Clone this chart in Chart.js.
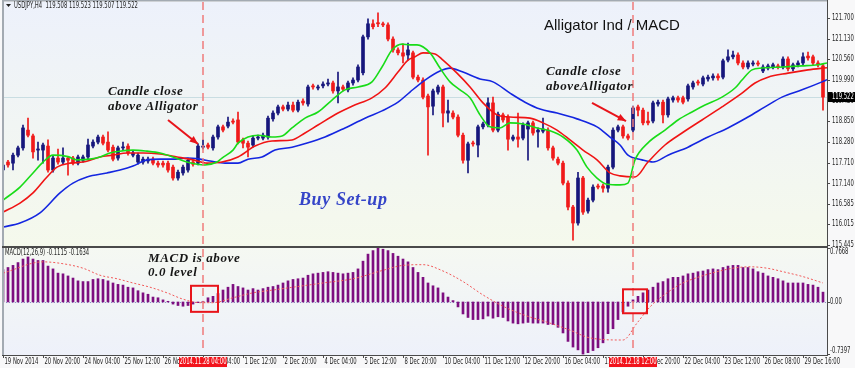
<!DOCTYPE html>
<html>
<head>
<meta charset="utf-8">
<script src="https://cdn.jsdelivr.net/npm/chart.js@4.4.1/dist/chart.umd.min.js"></script>
<style>
  html, body { margin: 0; padding: 0; background: #f8f8f8; }
  #wrap { position: relative; width: 855px; height: 368px; overflow: hidden; }
  #chart { position: absolute; left: 0; top: 0; }
  .note { position: absolute; font-family: "Liberation Serif", serif; font-weight: bold; font-style: italic; color: #161616; white-space: nowrap; }
  .title { position: absolute; font-family: "Liberation Sans", sans-serif; color: #111; white-space: nowrap; }
</style>
</head>
<body>
<div id="wrap">
  <canvas id="chart" width="855" height="368"></canvas>
  <div class="title" style="left:544px;top:16px;font-size:15px;line-height:18px;">Alligator Ind / MACD</div>
  <div class="note" style="left:108px;top:83px;font-size:13px;line-height:15px;letter-spacing:0.6px;">Candle close<br>above Alligator</div>
  <div class="note" style="left:546px;top:63px;font-size:13px;line-height:15px;letter-spacing:0.6px;">Candle close<br>aboveAlligator</div>
  <div class="note" style="left:148px;top:251px;font-size:13px;line-height:14px;letter-spacing:0.6px;">MACD is above<br>0.0 level</div>
  <div class="note" style="left:299px;top:189px;font-size:18px;line-height:20px;letter-spacing:0.6px;color:#3545c8;">Buy Set-up</div>
</div>
<script>
// USDJPY H4 candles, one per 4h bar
const openP = [117.51,117.73,117.70,117.92,118.12,118.61,118.45,118.06,118.06,118.17,
  117.51,117.84,117.73,117.84,117.84,117.70,117.78,117.87,118.17,118.28,
  118.42,118.28,118.14,117.84,118.12,118.17,117.92,117.73,117.73,117.76,
  117.81,117.70,117.70,117.70,117.59,117.29,117.43,117.51,117.73,117.70,
  118.14,118.20,118.12,118.42,118.70,118.72,118.86,118.89,118.34,118.25,
  118.20,118.39,118.39,118.42,118.92,119.08,119.25,119.19,119.30,119.16,
  119.41,119.33,119.83,119.77,119.83,119.88,119.91,119.69,119.80,119.72,
  119.91,119.99,120.19,121.18,121.54,121.57,121.54,121.51,121.12,120.82,
  120.74,120.68,120.74,120.07,119.99,119.55,119.27,119.66,119.80,119.08,
  119.08,118.97,118.47,117.78,118.25,118.20,118.70,118.75,119.36,118.61,
  119.03,118.97,118.36,118.42,118.39,118.64,118.81,118.56,118.58,118.61,
  118.12,117.81,117.70,117.15,116.49,116.05,117.29,116.38,116.68,117.07,
  117.07,117.01,117.59,118.61,118.70,118.45,118.61,119.25,119.16,118.86,
  118.86,119.33,119.38,119.03,119.44,119.50,119.50,119.47,119.80,119.94,
  119.88,120.02,120.05,120.10,120.07,120.54,120.63,120.68,120.46,120.35,
  120.43,120.46,120.24,120.32,120.35,120.38,120.35,120.57,120.30,120.41,
  120.46,120.65,120.63,120.46,120.38];
const highP = [117.73,117.78,117.98,118.17,118.75,118.94,118.50,118.28,118.25,118.34,
  117.89,118.09,118.12,117.89,117.89,117.92,117.92,118.36,118.34,118.47,
  118.47,118.56,118.20,118.17,118.28,118.23,118.03,117.98,117.87,117.87,
  117.87,117.76,117.76,117.76,117.65,117.51,117.65,117.84,117.78,118.23,
  118.34,118.25,118.47,118.75,118.75,118.97,118.92,119.11,118.39,118.31,
  118.45,118.47,118.53,119.00,119.14,119.30,119.30,119.38,119.38,119.44,
  119.47,119.85,119.88,119.85,119.94,120.02,119.96,120.21,119.85,119.96,
  120.05,120.41,121.23,121.68,121.65,121.84,121.59,121.57,121.18,120.88,
  120.99,121.01,120.79,120.13,120.05,119.60,119.74,119.85,119.85,119.44,
  119.14,119.03,118.53,118.28,118.31,118.75,118.83,119.50,119.52,119.11,
  119.08,119.03,118.47,119.08,118.81,118.86,118.86,118.67,118.94,118.67,
  118.17,117.87,117.76,117.21,116.54,117.45,117.34,116.74,117.10,117.12,
  117.12,117.65,118.67,118.75,118.75,118.50,119.27,119.30,119.22,119.11,
  119.41,119.44,119.44,119.52,119.55,119.55,119.55,119.88,119.96,119.99,
  120.10,120.13,120.16,120.16,120.57,120.82,120.79,120.74,120.52,120.52,
  120.52,120.52,120.41,120.43,120.46,120.43,120.63,120.63,120.46,120.52,
  120.74,120.76,120.68,120.52,120.43];
const lowP = [117.45,117.59,117.51,117.87,118.06,118.42,117.84,117.78,117.70,117.45,
  117.45,117.67,117.67,117.37,117.65,117.65,117.73,117.81,118.12,118.23,
  118.20,118.01,117.76,117.78,118.06,117.92,117.87,117.67,117.67,117.70,
  117.65,117.59,117.59,117.45,117.23,117.23,117.37,117.45,117.62,117.65,
  118.09,118.09,118.06,118.36,118.56,118.67,118.78,118.23,118.12,117.87,
  118.14,118.34,118.34,118.36,118.86,119.03,119.14,119.14,119.11,119.11,
  119.30,119.27,119.74,119.72,119.77,119.83,119.63,119.36,119.69,119.66,
  119.85,119.94,120.13,121.12,121.40,121.46,121.46,121.07,120.76,120.68,
  120.46,120.54,120.02,119.94,119.47,117.92,119.03,119.60,118.70,118.83,
  118.92,118.42,117.70,117.43,118.17,117.87,118.64,118.70,118.56,118.56,
  118.83,118.06,118.31,118.14,118.34,117.78,118.47,118.14,118.53,118.06,
  117.78,117.65,117.10,116.41,115.58,115.99,116.29,116.32,116.63,116.99,
  116.90,116.90,117.54,118.56,118.39,118.34,118.56,119.00,118.75,118.75,
  118.81,119.27,118.81,118.97,119.38,119.38,119.33,119.41,119.74,119.85,
  119.83,119.96,119.99,119.99,120.02,120.49,120.57,120.41,120.30,120.30,
  120.38,120.38,120.19,120.27,120.30,120.30,120.30,120.24,120.24,120.35,
  120.41,120.54,120.41,120.35,119.16];
const closeP = [117.65,117.65,117.92,118.12,118.67,118.47,118.01,118.09,118.20,117.51,
  117.84,117.73,117.84,117.78,117.70,117.87,117.87,118.20,118.28,118.42,
  118.25,118.06,117.81,118.12,118.14,117.98,117.98,117.92,117.81,117.81,
  117.70,117.65,117.65,117.51,117.29,117.45,117.59,117.78,117.67,118.17,
  118.17,118.14,118.42,118.70,118.61,118.83,118.83,118.28,118.25,118.14,
  118.39,118.42,118.47,118.94,119.08,119.25,119.19,119.30,119.16,119.38,
  119.36,119.80,119.80,119.80,119.88,119.91,119.69,119.80,119.74,119.91,
  119.99,120.35,121.18,121.54,121.46,121.54,121.51,121.12,120.82,120.74,
  120.65,120.82,120.07,119.99,119.52,119.25,119.69,119.80,119.08,119.14,
  118.97,118.47,117.78,118.23,118.23,118.70,118.78,119.36,118.61,119.05,
  118.89,118.36,118.42,118.36,118.75,118.81,118.53,118.61,118.64,118.12,
  117.84,117.70,117.15,116.49,116.05,117.29,116.35,116.68,117.04,117.04,
  117.01,117.59,118.61,118.70,118.45,118.39,119.22,119.16,118.81,118.81,
  119.36,119.38,119.03,119.47,119.50,119.44,119.38,119.83,119.91,119.91,
  120.05,120.07,120.10,120.05,120.52,120.63,120.68,120.46,120.35,120.46,
  120.46,120.43,120.35,120.38,120.41,120.35,120.57,120.30,120.41,120.46,
  120.63,120.60,120.46,120.41,119.52];

// Alligator lines, sampled at bar positions
const jawBars = [0,3.4,7.4,11.4,14,16.8,20.8,23.4,26,28.8,31.4,34,36.8,39.4,41.4,44.4,47,49,51.8,54.4,57.8,61,64.4,68.4,72.4,75.8,79,81.4,84.4,87.4,89.4,92,95.4,98,101.4,104.4,107.4,110.8,114.8,118.8,121.4,123.4,125,127.8,130,133,137,141,145,149,152.4,155.8,159.8,163.8,164.8];
const jawVals = [115.94,116.05,116.33,116.88,117.15,117.32,117.43,117.51,117.62,117.79,117.81,117.81,117.84,117.81,117.76,117.70,117.70,117.81,117.87,118.06,118.14,118.26,118.42,118.67,118.94,119.14,119.38,119.66,119.99,120.24,120.32,120.21,120.02,119.94,119.63,119.38,119.19,119.08,118.92,118.70,118.42,118.20,117.92,117.79,117.73,117.92,118.14,118.42,118.67,118.97,119.25,119.52,119.72,119.94,120.00];
const teethBars = [0,3.4,6,8.8,10.8,13.4,16,19.4,22,24.8,28,31.4,34.8,38,40.8,43.8,47,50.4,53.8,57.8,60.4,63,67,69.8,73.8,76.4,79,81,82.4,84,86.4,88,90.8,93.4,96,98.8,101.4,105.4,108,110.8,113.4,116,118.8,121.4,123.4,126.4,129,132.4,135.8,139.8,143.8,147.8,150.4,153,157,161,164.8];
const teethVals = [116.35,116.60,116.88,117.32,117.59,117.70,117.73,117.87,117.92,117.98,117.98,117.95,117.87,117.79,117.70,117.73,117.87,118.17,118.31,118.34,118.53,118.75,119.08,119.27,119.50,119.77,120.21,120.54,120.63,120.74,120.71,120.54,120.18,119.80,119.36,119.03,118.97,118.94,118.81,118.61,118.34,118.06,117.79,117.43,117.35,117.32,117.73,118.20,118.53,118.89,119.25,119.63,119.91,120.07,120.18,120.27,120.33];
const lipsBars = [0,3.4,6,8,10,13,14.8,17.4,19.4,21.4,23.4,26,28.8,31.4,34,36.8,38.8,40.4,42.8,43.8,46,47,49,51,53.8,55.8,57.8,60.4,63,65.8,68.4,71,73.8,75.8,77.8,79.8,81.4,82.8,85.4,87.4,89.4,91.4,93.4,95.4,97.4,99.4,101.4,104,106.8,109.4,112,114.8,116.8,118.8,120.8,123.4,125,126.4,129,132.4,135,137.8,140.4,143.8,146.4,147.8,149.8,151.8,155.8,159.8,163,164.8];
const lipsVals = [116.68,117.04,117.43,117.73,117.92,117.88,117.79,117.81,117.87,117.98,118.03,118.06,118.03,117.98,117.87,117.73,117.67,117.65,117.73,117.84,118.06,118.25,118.42,118.47,118.42,118.45,118.67,118.94,119.11,119.44,119.72,119.80,119.94,120.35,120.82,120.98,120.96,120.96,120.74,120.32,119.94,119.72,119.50,119.03,118.70,118.67,118.81,118.78,118.67,118.59,118.42,118.06,117.59,117.29,117.12,117.10,117.15,117.79,118.26,118.61,118.89,119.11,119.30,119.52,119.77,119.99,120.27,120.32,120.35,120.38,120.41,120.46];

// MACD(12,26,9): histogram per bar and the signal line
const macdHist = [0.46,0.49,0.52,0.56,0.61,0.64,0.61,0.59,0.59,0.51,
  0.47,0.41,0.40,0.37,0.34,0.30,0.29,0.29,0.32,0.33,
  0.32,0.30,0.27,0.25,0.24,0.21,0.20,0.16,0.13,0.11,
  0.07,0.06,0.03,0.01,-0.03,-0.05,-0.06,-0.05,-0.03,-0.01,
  0.01,0.06,0.08,0.12,0.17,0.21,0.25,0.22,0.20,0.17,
  0.19,0.17,0.19,0.21,0.22,0.24,0.27,0.30,0.32,0.33,
  0.34,0.38,0.40,0.41,0.42,0.43,0.42,0.41,0.40,0.41,
  0.42,0.47,0.58,0.68,0.73,0.7668,0.75,0.73,0.69,0.65,
  0.61,0.57,0.49,0.42,0.35,0.27,0.23,0.20,0.13,0.07,
  0.02,-0.07,-0.17,-0.22,-0.25,-0.25,-0.24,-0.20,-0.23,-0.21,
  -0.22,-0.27,-0.30,-0.31,-0.30,-0.29,-0.30,-0.30,-0.30,-0.32,
  -0.32,-0.36,-0.44,-0.56,-0.64,-0.68,-0.7397,-0.72,-0.69,-0.65,
  -0.58,-0.45,-0.38,-0.25,-0.14,-0.06,0.03,0.08,0.13,0.17,
  0.21,0.27,0.29,0.33,0.35,0.35,0.37,0.40,0.41,0.43,
  0.44,0.46,0.47,0.46,0.49,0.51,0.52,0.52,0.49,0.49,
  0.47,0.43,0.41,0.37,0.35,0.33,0.30,0.27,0.27,0.27,
  0.27,0.25,0.24,0.21,0.14];
const signalBars = [0,8,11.4,16,19.4,22.8,26,29.4,32.8,36,39.4,42,46,50,54,58,64,70,76,80,84,88,92,96,100,104,109.4,113.4,117.4,124,126.8,129.4,132.8,136,139.4,142.8,146,149.4,152.8,156,160,164];
const signalVals = [0.41,0.57,0.55,0.48,0.38,0.33,0.27,0.21,0.13,0.04,-0.01,-0.01,0.06,0.13,0.17,0.21,0.27,0.33,0.45,0.52,0.53,0.44,0.29,0.10,-0.06,-0.18,-0.30,-0.40,-0.51,-0.54,-0.30,-0.07,0.13,0.27,0.36,0.43,0.48,0.50,0.48,0.43,0.36,0.27];

// axis labels
const priceTicks = [121.700,121.130,120.560,119.990,119.420,118.850,118.280,117.710,117.140,116.585,116.015,115.445];
const macdTicks = [0.7668, 0.00, -0.7397];
const macdTickText = ['0.7668', '0.00', '-0.7397'];
const timeTickBars = [0,8,16,24,32,40,48,56,64,72,80,88,96,104,112,120,128,136,144,152,160];
const timeTickLabels = ['19 Nov 2014','20 Nov 20:00','24 Nov 04:00','25 Nov 12:00','26 Nov 20:00','28 Nov 04:00',
  '1 Dec 12:00','2 Dec 20:00','4 Dec 04:00','5 Dec 12:00','8 Dec 20:00','10 Dec 04:00','11 Dec 12:00',
  '12 Dec 20:00','16 Dec 04:00','17 Dec 12:00','18 Dec 20:00','22 Dec 04:00','23 Dec 12:00','26 Dec 08:00','29 Dec 16:00'];
const markBars = [40, 126];
const markLabels = ['2014.11.28 04:00', '2014.12.18 12:00'];
const lastPrice = 119.522;
const headerText = 'USDJPY,H4  119.508 119.523 119.507 119.522';
const macdHeader = 'MACD(12,26,9) -0.1115 -0.1634';

// annotation shapes (bar index / value space)
const boxBars = [[37.6, 43.0], [124.0, 128.8]];
const boxVals = [[0.23, -0.14], [0.18, -0.16]];
const arrowFrom = [[33, 118.89], [117.8, 119.36]];
const arrowTo = [[39, 118.23], [124.6, 118.86]];

const BULL = '#16167c';
const BEAR = '#f01a1a';
const candleColors = closeP.map((c, i) => c >= openP[i] ? BULL : BEAR);
const idx = closeP.map((_, i) => i);

const SMALL = '8px "DejaVu Sans"';
const SQ = 0.66; // horizontal squeeze of the terminal font

function squeezed(ctx, txt, x, y, align) {
  ctx.save();
  ctx.translate(x, y);
  ctx.scale(SQ, 1);
  ctx.textAlign = align || 'left';
  ctx.fillText(txt, 0, 0);
  ctx.restore();
}

function arrow(ctx, x1, y1, x2, y2) {
  ctx.beginPath();
  ctx.moveTo(x1, y1);
  ctx.lineTo(x2, y2);
  ctx.stroke();
  const a = Math.atan2(y2 - y1, x2 - x1);
  ctx.beginPath();
  ctx.moveTo(x2, y2);
  ctx.lineTo(x2 - 9 * Math.cos(a - 0.4), y2 - 9 * Math.sin(a - 0.4));
  ctx.lineTo(x2 - 9 * Math.cos(a + 0.4), y2 - 9 * Math.sin(a + 0.4));
  ctx.closePath();
  ctx.fill();
}

const terminalLook = {
  id: 'terminalLook',
  beforeDraw(chart) {
    const { ctx, chartArea: a, scales: { y, y2 } } = chart;
    ctx.save();
    ctx.fillStyle = '#f8f8f9';
    ctx.fillRect(0, 0, chart.width, chart.height);
    let g = ctx.createLinearGradient(0, y.top, 0, y.bottom);
    g.addColorStop(0, '#edf1fb');
    g.addColorStop(1, '#f5f9ec');
    ctx.fillStyle = g;
    ctx.fillRect(a.left, y.top, a.right - a.left, y.bottom - y.top);
    g = ctx.createLinearGradient(0, y2.top, 0, y2.bottom);
    g.addColorStop(0, '#f5f8f2');
    g.addColorStop(1, '#eef1fa');
    ctx.fillStyle = g;
    ctx.fillRect(a.left, y2.top, a.right - a.left, y2.bottom - y2.top);
    ctx.restore();
  },
  beforeDatasetsDraw(chart) {
    const { ctx, chartArea: a, scales: { y, y2 } } = chart;
    ctx.save();
    // bid line
    const py = Math.round(y.getPixelForValue(lastPrice)) + 0.5;
    ctx.strokeStyle = '#c9dde2';
    ctx.lineWidth = 1;
    ctx.beginPath(); ctx.moveTo(a.left, py); ctx.lineTo(a.right, py); ctx.stroke();
    // zero level of MACD
    const zy = Math.round(y2.getPixelForValue(0)) + 0.5;
    ctx.strokeStyle = '#8a94c8';
    ctx.setLineDash([1, 2]);
    ctx.beginPath(); ctx.moveTo(a.left, zy); ctx.lineTo(a.right, zy); ctx.stroke();
    ctx.restore();
  },
  afterDatasetsDraw(chart) {
    const { ctx, chartArea: a, scales: { x, y, y2 } } = chart;
    ctx.save();
    // red dashed event lines
    ctx.strokeStyle = '#ef7b7b';
    ctx.lineWidth = 1.5;
    ctx.setLineDash([8, 5]);
    markBars.forEach(b => {
      const px = x.getPixelForValue(b);
      ctx.beginPath(); ctx.moveTo(px, a.top); ctx.lineTo(px, a.bottom - 3); ctx.stroke();
    });
    ctx.setLineDash([]);
    // red boxes on the MACD cross
    ctx.strokeStyle = '#e8141a';
    ctx.lineWidth = 2;
    boxBars.forEach((bb, i) => {
      const x1 = x.getPixelForValue(bb[0]), x2 = x.getPixelForValue(bb[1]);
      const y1 = y2.getPixelForValue(boxVals[i][0]), yb = y2.getPixelForValue(boxVals[i][1]);
      ctx.strokeRect(x1, y1, x2 - x1, yb - y1);
    });
    // arrows
    ctx.strokeStyle = '#e8141a';
    ctx.fillStyle = '#e8141a';
    ctx.lineWidth = 2;
    arrowFrom.forEach((f, i) => {
      arrow(ctx, x.getPixelForValue(f[0]), y.getPixelForValue(f[1]),
        x.getPixelForValue(arrowTo[i][0]), y.getPixelForValue(arrowTo[i][1]));
    });
    ctx.restore();
  },
  afterDraw(chart) {
    const { ctx, chartArea: a, scales: { x, y, y2 } } = chart;
    ctx.save();
    // frame
    ctx.fillStyle = '#a3aab2';
    ctx.fillRect(a.left - 1, 0, 2, a.bottom);
    ctx.fillRect(a.left - 1, 0, a.right - a.left + 1, 1.5);
    ctx.fillStyle = '#4a4a4a';
    ctx.fillRect(a.right, 0, 1, a.bottom + 1);
    ctx.fillRect(a.left - 1, y.bottom - 1, a.right - a.left + 1, 2);
    ctx.fillRect(a.left - 1, a.bottom, a.right - a.left + 2, 1);

    ctx.font = SMALL;
    ctx.fillStyle = '#1e1e1e';
    ctx.textBaseline = 'middle';
    ctx.strokeStyle = '#4a4a4a';
    ctx.lineWidth = 1;
    // price axis
    priceTicks.forEach(v => {
      const py = y.getPixelForValue(v);
      ctx.beginPath(); ctx.moveTo(a.right, Math.round(py) + 0.5); ctx.lineTo(a.right + 3, Math.round(py) + 0.5); ctx.stroke();
      squeezed(ctx, v.toFixed(3), a.right + 5, py);
    });
    // last price tag
    const lp = y.getPixelForValue(lastPrice);
    ctx.fillStyle = '#000';
    ctx.fillRect(a.right + 1, lp - 5, chart.width - a.right - 1, 10);
    ctx.fillStyle = '#fff';
    squeezed(ctx, lastPrice.toFixed(3), a.right + 5, lp);
    // MACD axis
    ctx.fillStyle = '#1e1e1e';
    macdTicks.forEach((v, i) => {
      let py = y2.getPixelForValue(v);
      ctx.beginPath(); ctx.moveTo(a.right, Math.round(py) + 0.5); ctx.lineTo(a.right + 3, Math.round(py) + 0.5); ctx.stroke();
      if (i === 0) py += 4;
      if (i === macdTicks.length - 1) py -= 3;
      squeezed(ctx, macdTickText[i], a.right + 3, py);
    });
    // time axis
    timeTickBars.forEach((b, i) => {
      const px = x.getPixelForValue(b);
      ctx.beginPath(); ctx.moveTo(Math.round(px) + 0.5, a.bottom); ctx.lineTo(Math.round(px) + 0.5, a.bottom + 3); ctx.stroke();
      squeezed(ctx, timeTickLabels[i], px + 1.5, a.bottom + 7);
    });
    markBars.forEach((b, i) => {
      const px = x.getPixelForValue(b);
      ctx.fillStyle = '#f2131b';
      ctx.fillRect(px - 24, a.bottom + 2, 48, 10);
      ctx.fillStyle = '#fff';
      squeezed(ctx, markLabels[i], px, a.bottom + 7, 'center');
    });
    // panel headers
    ctx.fillStyle = '#1e1e1e';
    ctx.beginPath();
    ctx.moveTo(a.left + 3, 4); ctx.lineTo(a.left + 8, 4); ctx.lineTo(a.left + 5.5, 7); ctx.closePath(); ctx.fill();
    squeezed(ctx, headerText, a.left + 11, 6);
    squeezed(ctx, macdHeader, a.left + 2, y2.top + 6);
    ctx.restore();
  }
};

const fixW = s => { s.width = 28; };

new Chart(document.getElementById('chart'), {
  type: 'bar',
  data: {
    datasets: [
      {
        type: 'line', label: 'Jaw', yAxisID: 'y',
        data: jawBars.map((b, i) => ({ x: b, y: jawVals[i] })),
        borderColor: '#1426e0', borderWidth: 1.6, pointRadius: 0, cubicInterpolationMode: 'monotone', order: 3
      },
      {
        type: 'line', label: 'Teeth', yAxisID: 'y',
        data: teethBars.map((b, i) => ({ x: b, y: teethVals[i] })),
        borderColor: '#f01414', borderWidth: 1.6, pointRadius: 0, cubicInterpolationMode: 'monotone', order: 2
      },
      {
        type: 'line', label: 'Lips', yAxisID: 'y',
        data: lipsBars.map((b, i) => ({ x: b, y: lipsVals[i] })),
        borderColor: '#18dc18', borderWidth: 1.6, pointRadius: 0, cubicInterpolationMode: 'monotone', order: 1
      },
      {
        label: 'Wicks', yAxisID: 'y', grouped: false,
        data: idx.map(i => ({ x: i, y: [lowP[i], highP[i]] })),
        backgroundColor: candleColors, barThickness: 1, order: 5
      },
      {
        label: 'Bodies', yAxisID: 'y', grouped: false, minBarLength: 1,
        data: idx.map(i => ({ x: i, y: [openP[i], closeP[i]] })),
        backgroundColor: candleColors, barThickness: 3, order: 4
      },
      {
        label: 'MACD', yAxisID: 'y2', grouped: false,
        data: idx.map(i => ({ x: i, y: macdHist[i] })),
        backgroundColor: '#7e0f80', barThickness: 2, order: 7
      },
      {
        type: 'line', label: 'Signal', yAxisID: 'y2',
        data: signalBars.map((b, i) => ({ x: b, y: signalVals[i] })),
        borderColor: '#f25a5a', borderWidth: 1, borderDash: [2, 2], pointRadius: 0,
        cubicInterpolationMode: 'monotone', order: 6
      }
    ]
  },
  options: {
    responsive: false,
    animation: false,
    layout: { padding: { top: 2, left: 3, right: 0, bottom: 0 } },
    plugins: { legend: { display: false }, tooltip: { enabled: false } },
    scales: {
      x: {
        type: 'linear', min: 0, max: 164.8, offset: false,
        grid: { display: false }, border: { display: false },
        ticks: { display: false },
        afterFit: s => { s.height = 13; }
      },
      y: {
        type: 'linear', position: 'right', stack: 'panels', stackWeight: 245, weight: 0,
        min: 115.389, max: 122.141,
        grid: { display: false }, border: { display: false },
        ticks: { display: false }, afterFit: fixW
      },
      y2: {
        type: 'linear', position: 'right', stack: 'panels', stackWeight: 108, weight: 1,
        min: -0.753, max: 0.781,
        grid: { display: false }, border: { display: false },
        ticks: { display: false }, afterFit: fixW
      }
    }
  },
  plugins: [terminalLook]
});
</script>
</body>
</html>
